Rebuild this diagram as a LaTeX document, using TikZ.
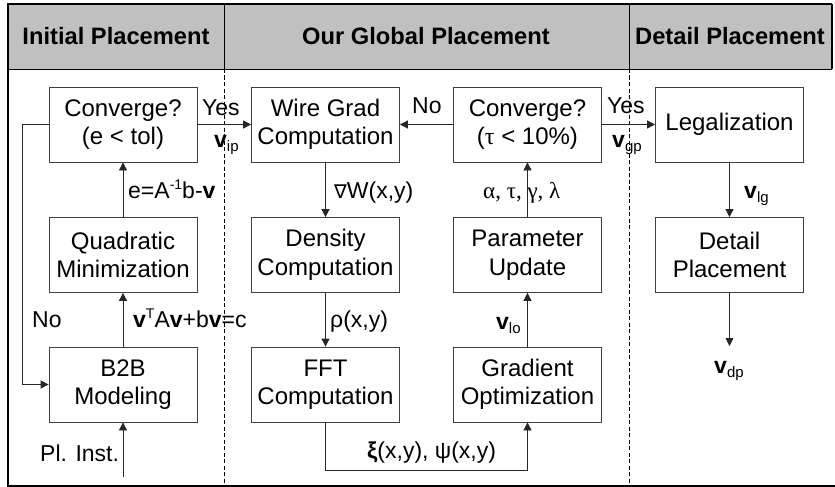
\documentclass[tikz,border=0pt]{standalone}
\usepackage{fontspec}
\setmainfont{Liberation Sans}
\newfontfamily\serifgr{Liberation Serif}
\newfontfamily\dvs{DejaVu Sans}
\usetikzlibrary{arrows.meta}
\newcommand{\vb}{\textbf{v}}
\newcommand{\lsub}[1]{\raisebox{-4pt}{\fontsize{15}{15}\selectfont #1}}
\newcommand{\lsup}[1]{\raisebox{9pt}{\fontsize{14}{14}\selectfont #1}}
\definecolor{hdrgray}{RGB}{192,192,192}
\begin{document}
\begin{tikzpicture}[x=1pt,y=-1pt,
  font=\fontsize{23}{28}\selectfont,
  box/.style={draw=black!75, line width=0.8pt, minimum width=148pt, minimum height=75pt, inner sep=0pt, align=center, font=\fontsize{24}{28.5}\selectfont},
  lab/.style={inner sep=0pt, anchor=base west},
  hdr/.style={inner sep=0pt, font=\fontsize{23.7}{28}\selectfont\bfseries},
  arr/.style={-{Triangle[length=8pt,width=8pt]}, line width=0.8pt, draw=black!85},
  divider/.style={line width=0.8pt, dash pattern=on 4pt off 2.5pt}]
\useasboundingbox (0,0) rectangle (835,487);
% header
\fill[hdrgray] (8,4) rectangle (832,69);
\draw[line width=0.8pt] (8,69) -- (832,69);
\draw[line width=1.6pt] (832,4) -- (8,4) -- (8,486) -- (835,486);
\draw[line width=1.2pt] (832,4) -- (832,69);
\draw[line width=0.8pt] (224,4) -- (224,69);
\draw[line width=0.8pt] (629,4) -- (629,69);
\draw[divider] (224,69) -- (224,486);
\draw[divider] (629,69) -- (629,486);
\node[hdr] (h1) at (116,36) {Initial Placement};
\node[hdr] (h2) at (426,36) {Our Global Placement};
\node[hdr] (h3) at (730,36) {Detail Placement};
% boxes
\node[box] (c1) at (123,124.5) {Converge?\\(e < tol)};
\node[box] (wg) at (325.5,124.5) {Wire Grad\\Computation};
\node[box] (c2) at (527.5,124.5) {Converge?\\({\serifgr τ} < 10\%)};
\node[box] (lg) at (729.5,124.5) {Legalization};
\node[box] (qm) at (123,255) {Quadratic\\Minimization};
\node[box] (dc) at (325.5,255) {Density\\Computation};
\node[box] (pu) at (527.5,255) {Parameter\\Update};
\node[box] (dp) at (729.5,255) {Detail\\Placement};
\node[box] (bb) at (123,384.5) {B2B\\Modeling};
\node[box] (ff) at (325.5,384.5) {FFT\\Computation};
\node[box] (go) at (527.5,384.5) {Gradient\\Optimization};
% free ends
\coordinate (pin) at (123,477);
\coordinate (dpout) at (729.5,346);
% connectors
\draw[arr] (c1.east) -- (wg.west);
\draw[arr] (c2.west) -- (wg.east);
\draw[arr] (c2.east) -- (lg.west);
\draw[arr] (qm.north) -- (c1.south);
\draw[arr] (bb.north) -- (qm.south);
\draw[arr] (pin) -- (bb.south);
\draw[arr] (c1.west) -- ++(-26,0) |- (bb.west);
\draw[arr] (wg.south) -- (dc.north);
\draw[arr] (dc.south) -- (ff.north);
\draw[arr] (ff.south) -- ++(0,48) -| (go.south);
\draw[arr] (go.north) -- (pu.south);
\draw[arr] (pu.north) -- (c2.south);
\draw[arr] (lg.south) -- (dp.north);
\draw[arr] (dp.south) -- (dpout);
% labels
\node[lab] (l1) at (202,115) {Yes};
\node[lab] (l2) at (214,147) {\vb\lsub{ip}};
\node[lab] (l3) at (412,113) {No};
\node[lab] (l4) at (607,113) {Yes};
\node[lab] (l5) at (612,147) {\vb\lsub{gp}};
\node[lab] (l6) at (334,198) {{\dvs\fontsize{19}{23}\selectfont ∇}W(x,y)};
\node[lab] (l7) at (128,198) {e=A\lsup{-1}b-\vb};
\node[lab] (l8) at (483,198) {{\serifgr α, τ, γ, λ}};
\node[lab] (l9) at (744,198) {\vb\lsub{lg}};
\node[lab] (l10) at (32,327) {No};
\node[lab] (l11) at (133,327) {\vb\lsup{T}A\vb+b\vb=c};
\node[lab] (l12) at (330,327) {ρ(x,y)};
\node[lab] (l13) at (496,329) {\vb\lsub{lo}};
\node[lab] (l14) at (714,373) {\vb\lsub{dp}};
\node[lab] (l15) at (40,461) {Pl. Inst.};
\node[lab] (l16) at (367,458) {\textbf{ξ}(x,y), ψ(x,y)};
\end{tikzpicture}
\end{document}
